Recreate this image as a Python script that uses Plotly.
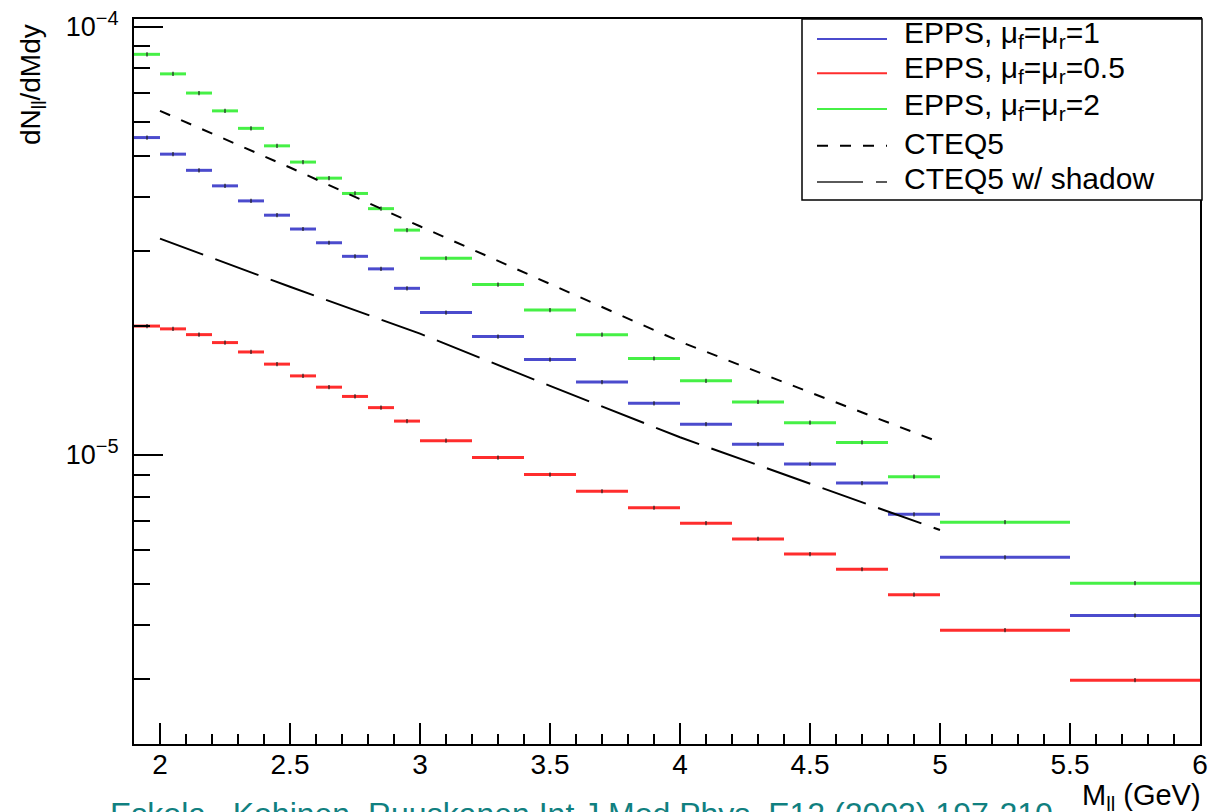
import plotly.graph_objects as go

# Dilepton invariant-mass bins (GeV): 0.1 wide up to 3, 0.2 wide up to 5, then 0.5 wide
bin_edges = [1.9, 2.0, 2.1, 2.2, 2.3, 2.4, 2.5, 2.6, 2.7, 2.8, 2.9, 3.0,
             3.2, 3.4, 3.6, 3.8, 4.0, 4.2, 4.4, 4.6, 4.8, 5.0, 5.5, 6.0]

# dN/dMdy per bin for the three EPPS scale choices
epps_mu1 = [5.51e-5, 5.04e-5, 4.62e-5, 4.25e-5, 3.92e-5, 3.63e-5, 3.37e-5, 3.13e-5,
            2.91e-5, 2.72e-5, 2.45e-5, 2.15e-5, 1.89e-5, 1.67e-5, 1.48e-5, 1.32e-5,
            1.18e-5, 1.06e-5, 9.53e-6, 8.60e-6, 7.27e-6, 5.77e-6, 4.22e-6]
epps_mu05 = [2.00e-5, 1.97e-5, 1.91e-5, 1.83e-5, 1.74e-5, 1.63e-5, 1.53e-5, 1.44e-5,
             1.37e-5, 1.29e-5, 1.20e-5, 1.08e-5, 9.86e-6, 9.00e-6, 8.23e-6, 7.53e-6,
             6.93e-6, 6.37e-6, 5.87e-6, 5.41e-6, 4.72e-6, 3.90e-6, 2.98e-6]
epps_mu2 = [8.62e-5, 7.76e-5, 7.00e-5, 6.36e-5, 5.79e-5, 5.27e-5, 4.83e-5, 4.43e-5,
            4.08e-5, 3.76e-5, 3.35e-5, 2.88e-5, 2.50e-5, 2.18e-5, 1.91e-5, 1.68e-5,
            1.49e-5, 1.33e-5, 1.19e-5, 1.07e-5, 8.90e-6, 6.97e-6, 5.02e-6]

# CTEQ5 reference curves
cteq_mass = [2.0, 2.5, 3.0, 3.5, 4.0, 4.5, 5.0]
cteq5 = [6.36e-5, 4.69e-5, 3.42e-5, 2.51e-5, 1.84e-5, 1.40e-5, 1.07e-5]
cteq5_shadow = [3.20e-5, 2.47e-5, 1.92e-5, 1.45e-5, 1.10e-5, 8.59e-6, 6.68e-6]

x_tick_vals = [2, 2.5, 3, 3.5, 4, 4.5, 5, 5.5, 6]
x_tick_text = ["2", "2.5", "3", "3.5", "4", "4.5", "5", "5.5", "6"]
y_tick_vals = [1e-5, 1e-4]
y_tick_text = ["10<sup><span style='font-size:20px'>\u22125</span></sup>",
               "10<sup><span style='font-size:20px'>\u22124</span></sup>"]
y_minor_vals = [3e-6, 4e-6, 5e-6, 6e-6, 7e-6, 8e-6, 9e-6,
                2e-5, 3e-5, 4e-5, 5e-5, 6e-5, 7e-5, 8e-5, 9e-5]

legend_labels = ["EPPS, \u03bc<sub>f</sub>=\u03bc<sub>r</sub>=1",
                 "EPPS, \u03bc<sub>f</sub>=\u03bc<sub>r</sub>=0.5",
                 "EPPS, \u03bc<sub>f</sub>=\u03bc<sub>r</sub>=2",
                 "CTEQ5",
                 "CTEQ5 w/ shadow"]
citation = "Eskola , Kohinen, Ruuskanen Int.J.Mod.Phys. E12 (2003) 197-210"

BLUE = "rgb(75,75,205)"
RED = "rgb(255,45,45)"
GREEN = "rgb(70,240,70)"
SHORT_DASH = "11px,12px"
LONG_DASH = "46px,13px"
FONT = "Liberation Sans, Arial, Helvetica, sans-serif"

FIG_W, FIG_H = 1210, 812
M_L, M_R, M_T, M_B = 134, 10, 19, 68
PLOT_W = FIG_W - M_L - M_R
PLOT_H = FIG_H - M_T - M_B


def px_x(px):
    return (px - M_L) / PLOT_W


def px_y(py):
    return (FIG_H - M_B - py) / PLOT_H


def step_segments(edges, values):
    xs, ys = [], []
    for lo, hi, v in zip(edges[:-1], edges[1:], values):
        xs += [lo, hi, None]
        ys += [v, v, None]
    return xs, ys


centers = [(lo + hi) / 2 for lo, hi in zip(bin_edges[:-1], bin_edges[1:])]

fig = go.Figure()

for values, color in [(epps_mu2, GREEN), (epps_mu1, BLUE), (epps_mu05, RED)]:
    xs, ys = step_segments(bin_edges, values)
    fig.add_trace(go.Scatter(x=xs, y=ys, mode="lines",
                             line=dict(color=color, width=3),
                             hoverinfo="skip", showlegend=False))
    fig.add_trace(go.Scatter(x=centers, y=values, mode="markers",
                             marker=dict(symbol="line-ns", size=3, color="black",
                                         line=dict(width=1.2, color="rgb(30,30,30)")),
                             hoverinfo="skip", showlegend=False))

fig.add_trace(go.Scatter(x=cteq_mass, y=cteq5, mode="lines",
                         line=dict(color="black", width=2, dash=SHORT_DASH),
                         showlegend=False))
fig.add_trace(go.Scatter(x=cteq_mass, y=cteq5_shadow, mode="lines",
                         line=dict(color="black", width=2, dash=LONG_DASH),
                         showlegend=False))

# legend box drawn in the top-right corner of the frame
shapes = [dict(type="rect", xref="paper", yref="paper",
               x0=px_x(802), x1=px_x(1202), y0=px_y(200), y1=px_y(19),
               line=dict(color="black", width=1.5), fillcolor="white", layer="above")]
legend_styles = [(BLUE, "solid"), (RED, "solid"), (GREEN, "solid"),
                 ("black", SHORT_DASH), ("rgb(90,90,90)", LONG_DASH)]
sample_rows = [39, 73.3, 109, 145.7, 182]
text_rows = [35, 70, 106.7, 143.3, 178.3]
annotations = []
for label, (color, dash), ys, yt in zip(legend_labels, legend_styles, sample_rows, text_rows):
    shapes.append(dict(type="line", xref="paper", yref="paper",
                       x0=px_x(817), x1=px_x(887), y0=px_y(ys), y1=px_y(ys),
                       line=dict(color=color, width=2, dash=dash), layer="above"))
    annotations.append(dict(text=label, xref="paper", yref="paper",
                            x=px_x(902), y=px_y(yt), xanchor="left", yanchor="middle",
                            showarrow=False, font=dict(size=30, color="black", family=FONT)))

annotations.append(dict(text="dN<sub>ll</sub>/dMdy", xref="paper", yref="paper",
                        x=px_x(32), y=px_y(85), xanchor="center", yanchor="middle",
                        textangle=-90, showarrow=False,
                        font=dict(size=28, color="black", family=FONT)))
annotations.append(dict(text="M<sub>ll</sub> (GeV)", xref="paper", yref="paper",
                        x=px_x(1203), y=px_y(797), xanchor="right", yanchor="middle",
                        showarrow=False, font=dict(size=29, color="black", family=FONT)))
annotations.append(dict(text=citation, xref="paper", yref="paper",
                        x=px_x(108), y=px_y(794), xanchor="left", yanchor="top",
                        showarrow=False, font=dict(size=32, color="rgb(16,128,128)", family=FONT)))

fig.update_layout(
    width=FIG_W, height=FIG_H,
    margin=dict(l=M_L, r=M_R, t=M_T, b=M_B, autoexpand=False),
    paper_bgcolor="white", plot_bgcolor="white",
    font=dict(family=FONT, color="black"),
    shapes=shapes, annotations=annotations,
)

fig.update_xaxes(
    range=[1.9, 6.0], tickmode="array", tickvals=x_tick_vals, ticktext=x_tick_text,
    ticks="inside", ticklen=21, tickwidth=1.5, tickcolor="black",
    tickfont=dict(size=28, family=FONT, color="black"), ticklabelstandoff=-6,
    showline=True, linecolor="black", linewidth=2, mirror=True,
    showgrid=False, zeroline=False, automargin=False,
    minor=dict(ticks="inside", ticklen=10, tickwidth=1.5, tickcolor="black",
               tick0=1.9, dtick=0.1, showgrid=False),
)
fig.update_yaxes(
    type="log", range=[-5.67476, -3.98202],
    tickmode="array", tickvals=y_tick_vals, ticktext=y_tick_text,
    ticks="inside", ticklen=29, tickwidth=1.5, tickcolor="black",
    tickfont=dict(size=27, family=FONT, color="black"), ticklabelstandoff=8,
    showline=True, linecolor="black", linewidth=2, mirror=True,
    showgrid=False, zeroline=False, automargin=False,
    minor=dict(ticks="inside", ticklen=16, tickwidth=1.5, tickcolor="black",
               tickmode="array", tickvals=y_minor_vals, showgrid=False),
)

fig.write_html("out.html")
